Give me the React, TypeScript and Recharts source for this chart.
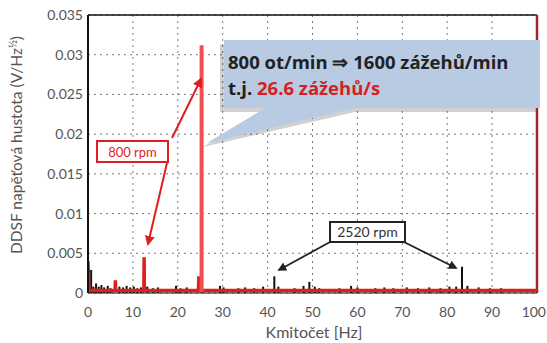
import {
  ComposedChart,
  Bar,
  Line,
  XAxis,
  YAxis,
  CartesianGrid,
  ReferenceLine,
} from "recharts";

const hzTicks = [0, 10, 20, 30, 40, 50, 60, 70, 80, 90, 100];
const ampTicks = [0, 0.005, 0.01, 0.015, 0.02, 0.025, 0.03, 0.035];

// 2520 rpm spectrum (black) – spike positions
const blackHz = [
  0.7, 1.2, 1.8, 2.4, 3.0, 3.6, 4.4, 5.0, 7.0, 7.8, 8.6, 9.4, 10.2, 11.0, 11.8,
  13.2, 14.5, 15.6, 19.6, 20.6, 22.0, 29.4, 30.2, 33.5, 35.0, 37.0, 39.0, 41.5,
  42.4, 46.0, 48.0, 49.3, 50.5, 51.5, 56.0, 58.6, 60.0, 64.0, 66.0, 68.0, 71.0,
  73.5, 76.0, 78.5, 80.5, 82.0, 83.3, 84.5, 87.0, 89.5, 92.0,
];
const blackAmp = [
  0.0029, 0.0008, 0.0012, 0.0008, 0.001, 0.0007, 0.0009, 0.0006, 0.0008, 0.0007,
  0.0009, 0.0007, 0.0008, 0.0006, 0.0007, 0.0008, 0.0006, 0.0007, 0.0009, 0.0006,
  0.0007, 0.0009, 0.0007, 0.0006, 0.0007, 0.0006, 0.0008, 0.0021, 0.0008, 0.0006,
  0.0009, 0.0014, 0.0008, 0.0006, 0.0006, 0.0009, 0.0007, 0.0006, 0.0007, 0.0006,
  0.0007, 0.0006, 0.0007, 0.0006, 0.0008, 0.0008, 0.0033, 0.0009, 0.0007, 0.0006,
  0.0006,
];

// 800 rpm spectrum (red)
const redHz = [
  0, 0.2, 2, 4, 6.05, 6.1, 6.15, 9, 12.45, 12.5, 12.55, 16, 20, 24.6, 24.7, 24.8,
  28, 35, 45, 55, 65, 75, 85, 95, 100,
];
const redAmp = [
  0.004, 0.0003, 0.0003, 0.0003, 0.0003, 0.0016, 0.0003, 0.0003, 0.0003, 0.0045,
  0.0003, 0.0003, 0.0003, 0.0003, 0.0021, 0.0003, 0.0003, 0.0003, 0.0003, 0.0003,
  0.0003, 0.0003, 0.0003, 0.0003, 0.0003,
];

// main firing harmonic of the 800 rpm run
const peakHz = [25.3, 25.3];
const peakAmp = [0, 0.0312];

const blackData = blackHz.map((f, i) => ({ f, v: blackAmp[i] }));
const redData = redHz.map((f, i) => ({ f, v: redAmp[i] }));
const peakData = peakHz.map((f, i) => ({ f, v: peakAmp[i] }));

const font = "Lato, 'Open Sans', sans-serif";
const red = "#e01e1e";

// thin spike instead of a bar
const Spike = (props: any) => {
  const { x, y, width, height } = props;
  if (height == null || height <= 0) return null;
  return <rect x={x + width / 2 - 1} y={y} width={2} height={height} fill="#111" />;
};

const HzTick = (props: any) => {
  const { x, y, payload } = props;
  const last = payload.value === 100;
  return (
    <text
      x={last ? 546 : x}
      y={y}
      dy="0.71em"
      textAnchor={last ? "end" : "middle"}
      fontSize={14}
      fill="#555"
      fontFamily={font}
    >
      {payload.value}
    </text>
  );
};

const App = () => {
  return (
    <div style={{ position: "absolute", left: 0, top: 0, width: 547, height: 343, background: "#fff" }}>
      <ComposedChart
        width={547}
        height={343}
        data={blackData}
        margin={{ top: 15, right: 10, left: 0, bottom: 0 }}
        barCategoryGap={0}
        barGap={0}
      >
        <CartesianGrid stroke="#7a7a7a" strokeDasharray="2 4" />
        <XAxis
          dataKey="f"
          type="number"
          domain={[0, 100]}
          ticks={hzTicks}
          height={50}
          tickLine={false}
          tickSize={12}
          axisLine={{ stroke: "#111" }}
          tick={<HzTick />}
          allowDataOverflow
        />
        <YAxis
          type="number"
          domain={[0, 0.035]}
          ticks={ampTicks}
          width={88}
          tickLine={false}
          tickSize={3}
          axisLine={{ stroke: "#111", strokeWidth: 2 }}
          tick={{ fontSize: 14, fill: "#555", fontFamily: font }}
          tickFormatter={(v) => String(v)}
          allowDataOverflow
        />
        <ReferenceLine y={0.035} stroke="#111" strokeWidth={1.5} />
        <ReferenceLine x={100} stroke="#a02828" strokeWidth={2.5} />
        <Bar dataKey="v" fill="#111" barSize={2} shape={<Spike />} isAnimationActive={false} />
        <Line
          data={redData}
          dataKey="v"
          type="linear"
          stroke={red}
          strokeWidth={3.5}
          dot={false}
          isAnimationActive={false}
        />
        <Line
          data={peakData}
          dataKey="v"
          type="linear"
          stroke="#f25050"
          strokeWidth={4}
          dot={false}
          isAnimationActive={false}
        />
      </ComposedChart>

      <svg
        width={547}
        height={343}
        style={{ position: "absolute", left: 0, top: 0, pointerEvents: "none" }}
      >
        <defs>
          <marker id="ahRed" viewBox="0 0 10 10" refX="8" refY="5" markerWidth="5" markerHeight="5" orient="auto">
            <path d="M0,0 L10,5 L0,10 z" fill={red} />
          </marker>
          <marker id="ahBlack" viewBox="0 0 10 10" refX="8" refY="5" markerWidth="5" markerHeight="5" orient="auto">
            <path d="M0,0 L10,5 L0,10 z" fill="#222" />
          </marker>
        </defs>

        <text
          transform="translate(22,145) rotate(-90)"
          textAnchor="middle"
          fontSize={15.5}
          fill="#555"
          fontFamily={font}
        >
          DDSF napěťová hustota (V/Hz<tspan dy={-5} fontSize={11}>½</tspan>
          <tspan dy={5}>)</tspan>
        </text>
        <text x={314} y={338} textAnchor="middle" fontSize={16} fill="#555" fontFamily={font}>
          Kmitočet [Hz]
        </text>

        {/* callout */}
        <polygon
          points="220,44 536,44 536,112 355,112 203,147 261,112 220,112"
          fill="#000"
          opacity={0.18}
        />
        <polygon
          points="224,40 540,40 540,108 355,108 207,143 265,108 224,108"
          fill="#b9cbe2"
        />
        <text x={228} y={69} fontSize={18.5} fontWeight="bold" fill="#222" fontFamily="'Open Sans', sans-serif">
          800 ot/min ⇒ 1600 zážehů/min
        </text>
        <text x={228} y={95} fontSize={18.5} fontWeight="bold" fill="#222" fontFamily="'Open Sans', sans-serif">
          t.j. <tspan fill="#d42020">26.6 zážehů/s</tspan>
        </text>

        {/* 800 rpm label */}
        <line x1={172} y1={138} x2={201} y2={79} stroke={red} strokeWidth={2} markerEnd="url(#ahRed)" />
        <line x1={167} y1={163} x2={148} y2={244} stroke={red} strokeWidth={2} markerEnd="url(#ahRed)" />
        <rect x={97} y={141} width={71} height={21} fill="#fff" stroke={red} strokeWidth={2} />
        <text x={132.5} y={156.5} textAnchor="middle" fontSize={13} fill={red} fontFamily={font}>
          800 rpm
        </text>

        {/* 2520 rpm label */}
        <line x1={330} y1={242} x2={279} y2={270} stroke="#222" strokeWidth={1.8} markerEnd="url(#ahBlack)" />
        <line x1={404} y1={242} x2={456} y2={268} stroke="#222" strokeWidth={1.8} markerEnd="url(#ahBlack)" />
        <rect x={330} y={222} width={75} height={20} fill="#fff" stroke="#222" strokeWidth={2} />
        <text x={367.5} y={237} textAnchor="middle" fontSize={14} fill="#333" fontFamily={font}>
          2520 rpm
        </text>
      </svg>
    </div>
  );
};

export default App;
